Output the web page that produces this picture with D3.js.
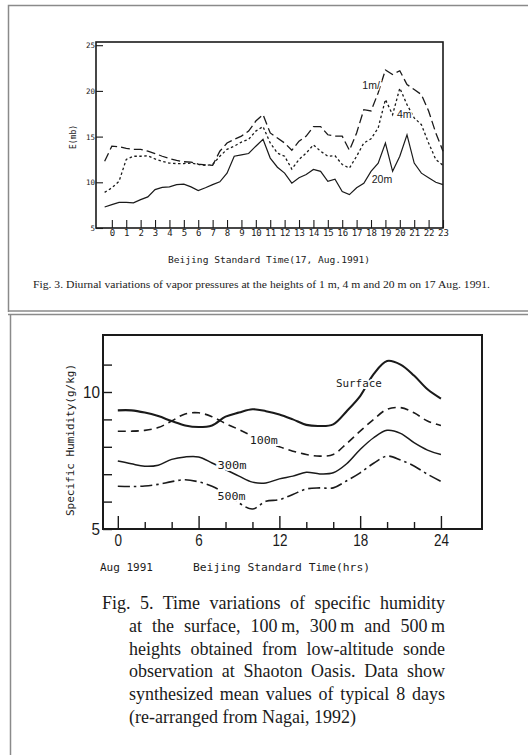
<!DOCTYPE html>
<html>
<head>
<meta charset="utf-8">
<script src="https://cdn.jsdelivr.net/npm/d3@7"></script>
<style>
  body { margin: 0; background: #fff; }
  svg { display: block; }
</style>
</head>
<body>
<script>
// Fig. 3: vapor pressure (mb), read every half hour from -0.5 to 23
let hours3 = [-0.5, 0, 0.5, 1, 1.5, 2, 2.5, 3, 3.5, 4, 4.5, 5, 5.5, 6, 6.5, 7, 7.5, 8, 8.5, 9, 9.5, 10,
    10.5, 11, 11.5, 12, 12.5, 13, 13.5, 14, 14.5, 15, 15.5, 16, 16.5, 17, 17.5, 18, 18.5, 19, 19.5, 20,
    20.5, 21, 21.5, 22, 22.5, 23];
let vapor1m = [12.3, 13.95, 13.9, 13.7, 13.6, 13.6, 13.4, 13.15, 12.85, 12.6, 12.4, 12.25, 12.2, 12.0,
    11.9, 11.85, 13.4, 14.3, 14.7, 15.05, 15.6, 16.7, 17.4, 15.4, 14.85, 14.3, 13.5, 14.5, 15.05, 16.1,
    16.1, 15.2, 15.05, 15.05, 13.5, 15.4, 17.95, 17.8, 19.8, 22.3, 21.8, 22.2, 20.7, 20.15, 19.6, 17.8,
    15.4, 13.4];
let vapor4m = [8.9, 9.4, 10.1, 12.5, 12.85, 12.85, 12.9, 12.55, 12.3, 12.1, 12.05, 12.05, 12.1, 11.95,
    11.85, 11.95, 12.85, 13.6, 13.95, 14.4, 14.7, 15.6, 16.1, 14.3, 13.2, 12.85, 11.45, 12.5, 13.2, 14.1,
    13.4, 12.85, 12.9, 11.95, 11.55, 12.85, 14.3, 14.75, 15.95, 19.05, 17.4, 20.3, 18.5, 17.05, 16.3,
    14.3, 12.5, 11.85];
let vapor20m = [7.3, 7.55, 7.8, 7.8, 7.75, 8.1, 8.4, 9.2, 9.45, 9.5, 9.75, 9.8, 9.5, 9.1, 9.4, 9.75,
    10.05, 11.0, 12.85, 13.0, 13.15, 13.95, 14.7, 12.65, 11.65, 11.0, 9.9, 10.5, 10.85, 11.4, 11.2, 10.1,
    10.35, 9.0, 8.65, 9.4, 9.9, 11.2, 12.1, 14.3, 11.2, 12.85, 15.2, 12.1, 11.0, 10.5, 10.0, 9.75];
let ticks3x = [0, 1, 2, 3, 4, 5, 6, 7, 8, 9, 10, 11, 12, 13, 14, 15, 16, 17, 18, 19, 20, 21, 22, 23];
let ticks3y = [5, 10, 15, 20, 25];

// Fig. 5: specific humidity (g/kg), hourly 0..24
let hours5 = [0, 1, 2, 3, 4, 5, 6, 7, 8, 9, 10, 11, 12, 13, 14, 15, 16, 17, 18, 19, 20, 21, 22, 23, 24];
let qSurface = [9.33, 9.33, 9.25, 9.12, 8.94, 8.78, 8.72, 8.78, 9.1, 9.25, 9.37, 9.3, 9.18, 9.0, 8.8,
    8.76, 8.82, 9.3, 9.85, 10.65, 11.13, 11.0, 10.6, 10.1, 9.76];
let q100m = [8.57, 8.57, 8.6, 8.7, 8.94, 9.2, 9.24, 9.1, 8.85, 8.63, 8.39, 8.15, 8.0, 7.84, 7.72, 7.66,
    7.72, 8.12, 8.57, 9.0, 9.37, 9.43, 9.24, 8.94, 8.78];
let q300m = [7.48, 7.38, 7.29, 7.33, 7.54, 7.63, 7.63, 7.41, 7.17, 6.93, 6.71, 6.68, 6.83, 6.93, 7.07,
    7.01, 7.05, 7.38, 7.9, 8.33, 8.6, 8.49, 8.15, 7.88, 7.72];
let q500m = [6.56, 6.55, 6.57, 6.63, 6.73, 6.8, 6.72, 6.56, 6.3, 5.95, 5.73, 6.01, 6.07, 6.26, 6.46, 6.5,
    6.5, 6.76, 7.05, 7.4, 7.66, 7.52, 7.3, 7.0, 6.74];
let ticks5x = [0, 2, 4, 6, 8, 10, 12, 14, 16, 18, 20, 22, 24];
let ticks5y = [5, 6, 7, 8, 9, 10, 11];

let caption5 = [
    "Fig. 5. Time variations of specific humidity",
    "at the surface, 100\u2009m, 300\u2009m and 500\u2009m",
    "heights obtained from low-altitude sonde",
    "observation at Shaoton Oasis. Data show",
    "synthesized mean values of typical 8 days",
    "(re-arranged from Nagai, 1992)"
];

let ink = "#1a1a1a";
let mono = "'DejaVu Sans Mono', monospace";
let svg;

function init() {
    svg = d3.select("body").append("svg")
        .attr("width", 528)
        .attr("height", 755);

    drawPanels();
    drawFig3();
    drawFig5();
}

function drawPanels() {
    let g = svg.append("g").attr("fill", "none").attr("stroke", "#8a8a8a").attr("stroke-width", 1.5);
    g.append("path").attr("d", "M8.5,312 V5.5 H528");
    g.append("line").attr("x1", 8).attr("x2", 528).attr("y1", 311).attr("y2", 311);
    g.append("line").attr("x1", 8).attr("x2", 528).attr("y1", 314.5).attr("y2", 314.5);
    g.append("line").attr("x1", 10.5).attr("x2", 10.5).attr("y1", 314).attr("y2", 755);
}

function drawFig3() {
    let x = d3.scaleLinear().domain([-1.1, 23]).range([96, 443]);
    let y = d3.scaleLinear().domain([5, 25.35]).range([228, 42]);
    let g = svg.append("g");

    g.append("rect")
        .attr("x", 96).attr("y", 42).attr("width", 347).attr("height", 186)
        .attr("fill", "none").attr("stroke", ink).attr("stroke-width", 1.6);

    let xAxis = g.append("g")
        .attr("transform", "translate(0,228)")
        .call(d3.axisBottom(x).tickValues(ticks3x).tickSizeInner(-8).tickSizeOuter(0).tickPadding(2));
    xAxis.select(".domain").remove();
    xAxis.selectAll("line").attr("stroke", ink).attr("stroke-width", 1.1);
    xAxis.selectAll("text").attr("font-family", mono).attr("font-size", 9).attr("fill", ink);

    let yAxis = g.append("g")
        .attr("transform", "translate(96,0)")
        .call(d3.axisLeft(y).tickValues(ticks3y).tickSizeInner(-7).tickSizeOuter(0).tickPadding(1));
    yAxis.select(".domain").remove();
    yAxis.selectAll("line").attr("stroke", ink).attr("stroke-width", 1.1);
    yAxis.selectAll("text").attr("font-family", mono).attr("font-size", 7.5).attr("fill", ink);

    let line = d3.line().x((d, i) => x(hours3[i])).y(d => y(d));
    let series = [
        {values: vapor1m, dash: "9,4", width: 1.3},
        {values: vapor4m, dash: "2.5,2.5", width: 1.3},
        {values: vapor20m, dash: null, width: 1.2}
    ];
    series.forEach(s => {
        g.append("path")
            .attr("d", line(s.values))
            .attr("fill", "none")
            .attr("stroke", ink)
            .attr("stroke-width", s.width)
            .attr("stroke-dasharray", s.dash);
    });

    let labels = [
        {text: "1m/", h: 17.4, v: 20.6},
        {text: "4m", h: 19.8, v: 17.4},
        {text: "20m", h: 18.05, v: 10.3}
    ];
    g.selectAll(".lab3").data(labels).enter().append("text")
        .attr("x", d => x(d.h))
        .attr("y", d => y(d.v))
        .attr("dy", "0.35em")
        .attr("font-family", "'Liberation Sans', sans-serif")
        .attr("font-size", 10.5)
        .attr("fill", ink)
        .attr("stroke", "#fff").attr("stroke-width", 2.5).attr("paint-order", "stroke")
        .text(d => d.text);

    g.append("text")
        .attr("transform", "translate(76,137) rotate(-90)")
        .attr("text-anchor", "middle")
        .attr("font-family", mono).attr("font-size", 8).attr("fill", ink)
        .text("E(mb)");

    g.append("text")
        .attr("x", 168).attr("y", 263)
        .attr("font-family", mono).attr("font-size", 8).attr("fill", ink)
        .attr("textLength", 202).attr("lengthAdjust", "spacingAndGlyphs")
        .text("Beijing Standard Time(17, Aug.1991)");

    g.append("text")
        .attr("x", 33).attr("y", 288)
        .attr("font-family", "'Liberation Serif', serif").attr("font-size", 9.5).attr("fill", ink)
        .attr("textLength", 457).attr("lengthAdjust", "spacingAndGlyphs")
        .text("Fig. 3. Diurnal variations of vapor pressures at the heights of 1 m, 4 m and 20 m on 17 Aug. 1991.");
}

function drawFig5() {
    let x = d3.scaleLinear().domain([-1.1, 27.05]).range([103, 482]);
    let y = d3.scaleLinear().domain([5, 12.08]).range([529, 335]);
    let g = svg.append("g");

    g.append("rect")
        .attr("x", 103).attr("y", 335).attr("width", 379).attr("height", 194)
        .attr("fill", "none").attr("stroke", ink).attr("stroke-width", 2);

    let xAxis = g.append("g")
        .attr("transform", "translate(0,529)")
        .call(d3.axisBottom(x).tickValues(ticks5x).tickSizeInner(-7).tickSizeOuter(0).tickPadding(5)
            .tickFormat(d => d % 6 === 0 ? d : ""));
    xAxis.select(".domain").remove();
    xAxis.selectAll("line")
        .attr("stroke", ink).attr("stroke-width", 1.4)
        .attr("y2", d => d % 6 === 0 ? -13 : -7);
    xAxis.selectAll("text")
        .attr("font-family", "'Liberation Sans', sans-serif").attr("font-size", 17).attr("fill", ink)
        .attr("textLength", d => String(d).length * 7.5).attr("lengthAdjust", "spacingAndGlyphs");

    let yAxis = g.append("g")
        .attr("transform", "translate(103,0)")
        .call(d3.axisLeft(y).tickValues(ticks5y).tickSizeInner(-9).tickSizeOuter(0).tickPadding(3)
            .tickFormat(d => d % 5 === 0 ? d : ""));
    yAxis.select(".domain").remove();
    yAxis.selectAll("line").attr("stroke", ink).attr("stroke-width", 1.4);
    yAxis.selectAll("text")
        .attr("font-family", "'Liberation Sans', sans-serif").attr("font-size", 17).attr("fill", ink)
        .attr("textLength", d => String(d).length * 8.5).attr("lengthAdjust", "spacingAndGlyphs");

    let line = d3.line().curve(d3.curveCatmullRom).x((d, i) => x(hours5[i])).y(d => y(d));
    let series = [
        {values: qSurface, dash: null, width: 2.1},
        {values: q100m, dash: "8,5", width: 1.6},
        {values: q300m, dash: null, width: 1.5},
        {values: q500m, dash: "12,4,2.5,4", width: 1.6}
    ];
    series.forEach(s => {
        g.append("path")
            .attr("d", line(s.values))
            .attr("fill", "none")
            .attr("stroke", ink)
            .attr("stroke-width", s.width)
            .attr("stroke-dasharray", s.dash);
    });

    let labels = [
        {text: "Surface", h: 16.2, v: 10.32, w: 46},
        {text: "100m", h: 9.8, v: 8.25, w: 28},
        {text: "300m", h: 7.4, v: 7.33, w: 29},
        {text: "500m", h: 7.4, v: 6.2, w: 28}
    ];
    g.selectAll(".lab5").data(labels).enter().append("text")
        .attr("x", d => x(d.h))
        .attr("y", d => y(d.v))
        .attr("dy", "0.35em")
        .attr("font-family", mono)
        .attr("font-size", 11)
        .attr("fill", ink)
        .attr("textLength", d => d.w).attr("lengthAdjust", "spacingAndGlyphs")
        .attr("stroke", "#fff").attr("stroke-width", 4).attr("paint-order", "stroke")
        .text(d => d.text);

    g.append("text")
        .attr("transform", "translate(74,440) rotate(-90)")
        .attr("text-anchor", "middle")
        .attr("font-family", mono).attr("font-size", 10.5).attr("fill", ink)
        .attr("textLength", 152).attr("lengthAdjust", "spacingAndGlyphs")
        .text("Specific Humidity(g/kg)");

    g.append("text")
        .attr("x", 100).attr("y", 571)
        .attr("font-family", mono).attr("font-size", 10.5).attr("fill", ink)
        .attr("textLength", 53).attr("lengthAdjust", "spacingAndGlyphs")
        .text("Aug 1991");

    g.append("text")
        .attr("x", 193).attr("y", 571)
        .attr("font-family", mono).attr("font-size", 11).attr("fill", ink)
        .attr("textLength", 177).attr("lengthAdjust", "spacingAndGlyphs")
        .text("Beijing Standard Time(hrs)");

    drawCaption(caption5);
}

function drawCaption(lines) {
    let right = 445;
    lines.forEach((txt, i) => {
        let left = i === 0 ? 102 : 129;
        let t = svg.append("text")
            .attr("x", left)
            .attr("y", 609 + i * 22.8)
            .attr("font-family", "'Liberation Serif', serif")
            .attr("font-size", 18)
            .attr("fill", "#1a1a1a")
            .text(txt);
        // justify every line but the last by widening the word gaps
        if (i < lines.length - 1) {
            let w = t.node().getComputedTextLength();
            let gaps = txt.split(" ").length - 1;
            if (gaps > 0) t.attr("word-spacing", (right - left - w) / gaps);
        }
    });
}

init();
</script>
</body>
</html>
